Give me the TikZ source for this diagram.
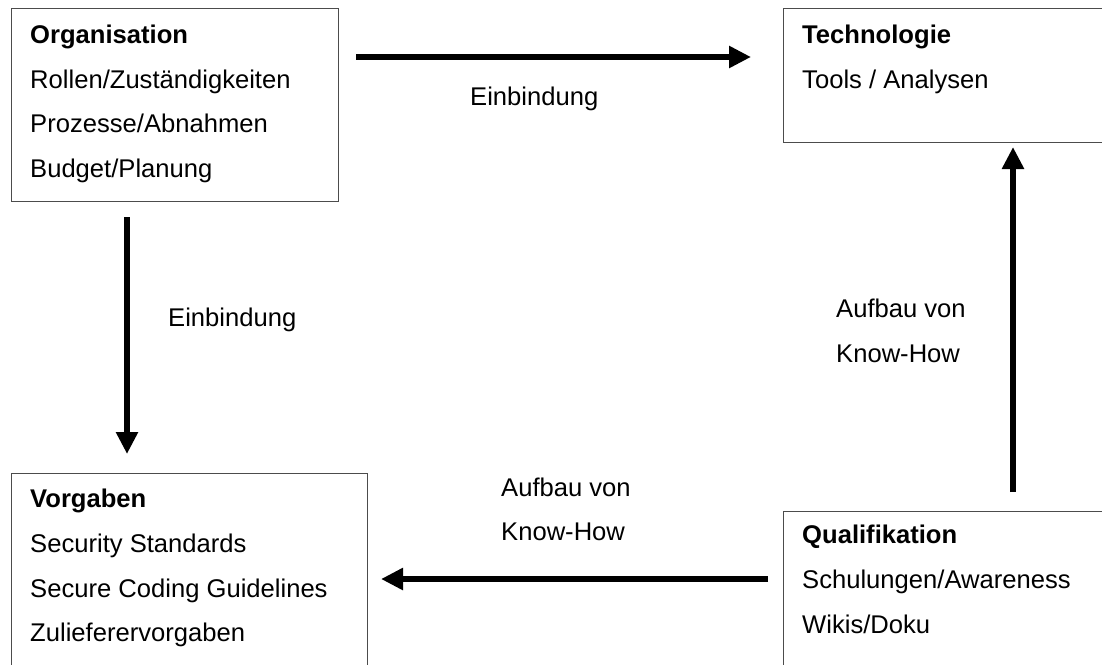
\documentclass[tikz,border=0pt]{standalone}
\usepackage{fontspec}
\setmainfont{Liberation Sans}
\usetikzlibrary{arrows.meta}
\begin{document}
\begin{tikzpicture}[x=1pt,y=-1pt,
  box/.style={draw=black!70,line width=1.4pt,anchor=north west,inner sep=0pt},
  txt/.style={anchor=base west,inner sep=0pt,font=\fontsize{25.6}{30}\selectfont},
  head/.style={txt,font=\fontsize{25.6}{30}\selectfont\bfseries},
  flow/.style={line width=6pt,-{Triangle[length=22pt,width=21pt]}}]
\useasboundingbox (0,0) rectangle (1102,664);
% boxes
\node[box,minimum width=327pt,minimum height=193pt] (org) at (11,8) {};
\node[box,minimum width=330pt,minimum height=134pt] (tech) at (783,8) {};
\node[box,minimum width=356pt,minimum height=200pt] (vor) at (11,473) {};
\node[box,minimum width=330pt,minimum height=160pt] (qual) at (783,511) {};
% box texts
\node[head] (orgh) at (30,43) {Organisation};
\node[txt] (org1) at (30,88) {Rollen/Zuständigkeiten};
\node[txt] (org2) at (30,132) {Prozesse/Abnahmen};
\node[txt] (org3) at (30,177) {Budget/Planung};
\node[head] (techh) at (802,43) {Technologie};
\node[txt] (tech1) at (802,88) {Tools / Analysen};
\node[head] (vorh) at (30,507) {Vorgaben};
\node[txt] (vor1) at (30,552) {Security Standards};
\node[txt] (vor2) at (30,597) {Secure Coding Guidelines};
\node[txt] (vor3) at (30,641) {Zulieferervorgaben};
\node[head] (qualh) at (802,543) {Qualifikation};
\node[txt] (qual1) at (802,588) {Schulungen/Awareness};
\node[txt] (qual2) at (802,633) {Wikis/Doku};
% arrow ends
\coordinate (a1s) at (356,57);  \coordinate (a1e) at (751,57);
\coordinate (a2s) at (127,217); \coordinate (a2e) at (127,454);
\coordinate (a3s) at (1013,492); \coordinate (a3e) at (1013,147);
\coordinate (a4s) at (768,579); \coordinate (a4e) at (381,579);
% arrows
\draw[flow] (a1s) -- (a1e);
\draw[flow] (a2s) -- (a2e);
\draw[flow] (a3s) -- (a3e);
\draw[flow] (a4s) -- (a4e);
% arrow labels
\node[txt] (l1) at (470,105) {Einbindung};
\node[txt] (l2) at (168,326) {Einbindung};
\node[txt] (l3a) at (836,317) {Aufbau von};
\node[txt] (l3b) at (836,362) {Know-How};
\node[txt] (l4a) at (501,496) {Aufbau von};
\node[txt] (l4b) at (501,540) {Know-How};
\end{tikzpicture}
\end{document}
